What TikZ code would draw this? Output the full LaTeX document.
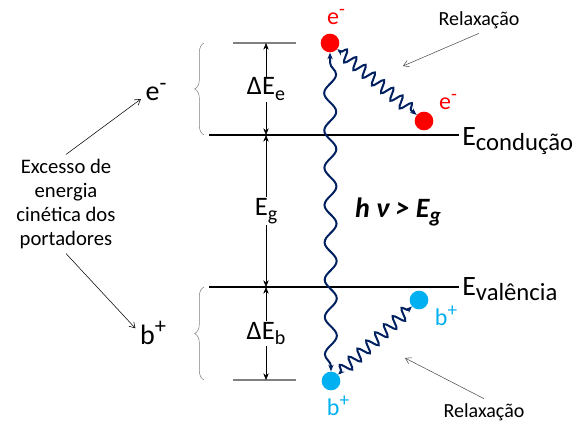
\documentclass[tikz,border=0pt]{standalone}
\usepackage{fontspec}
\setmainfont{Carlito}
\usetikzlibrary{arrows.meta,decorations.pathmorphing,decorations.pathreplacing}
\definecolor{eRed}{RGB}{255,0,0}
\definecolor{hBlue}{RGB}{0,176,240}
\definecolor{waveBlue}{RGB}{0,32,96}
\definecolor{levelGray}{RGB}{128,128,128}
% sub- and superscripts with a size of their own
\newcommand{\lowsub}[2]{\raisebox{-0.4ex}{\fontsize{#1}{#1}\selectfont #2}}
\newcommand{\highsup}[1]{\raisebox{0.8ex}{\scalebox{0.8}{#1}}}

\begin{document}
\begin{tikzpicture}[
    x=0.75pt, y=-0.75pt,
    >={Stealth[length=5pt,width=4pt]},
    band/.style={line width=1.8pt},
    edge level/.style={levelGray, line width=1.8pt},
    gap/.style={<->, thin},
    gap label/.style={fill=white, inner sep=1pt, font=\fontsize{20}{22}\selectfont},
    carrier/.style={circle, minimum size=14pt, inner sep=0pt},
    photon/.style={<->, waveBlue, line width=1.5pt, decorate,
        decoration={snake, segment length=28pt, amplitude=4.5pt, pre length=4pt, post length=4pt}},
    relax/.style={photon, decoration={snake, segment length=9pt, amplitude=4.5pt, pre length=3pt, post length=3pt}},
    brace/.style={levelGray, thin, decorate, decoration={brace, amplitude=7pt}},
    pointer/.style={-{Straight Barb[length=4pt,width=5pt]}, thin},
    big label/.style={font=\fontsize{21}{24}\selectfont},
    charge label/.style={font=\fontsize{18}{20}\selectfont},
    band label/.style={anchor=base west, font=\fontsize{21}{24}\selectfont, inner sep=0pt},
    relax label/.style={font=\fontsize{15}{17}\selectfont}
    ]

    \useasboundingbox (0,0) rectangle (581,426);

    % levels
    \coordinate (eTopL) at (233,43);   \coordinate (eTopR) at (296,43);
    \coordinate (hBotL) at (233,380);  \coordinate (hBotR) at (296,380);
    \coordinate (cbL) at (209,135);    \coordinate (cbR) at (459,135);
    \coordinate (vbL) at (209,287);    \coordinate (vbR) at (459,287);
    \coordinate (eTop) at (266,43);
    \coordinate (cbMid) at (266,135);
    \coordinate (vbMid) at (266,287);
    \coordinate (hBot) at (266,380);

    \draw[edge level] (eTopL) -- (eTopR);
    \draw[edge level] (hBotL) -- (hBotR);
    \draw[band] (cbL) -- (cbR);
    \draw[band] (vbL) -- (vbR);

    \draw[gap] (eTop) -- node[gap label] (dEe) {ΔE\lowsub{15}{e}} (cbMid);
    \draw[gap] (cbMid) -- node[gap label] (Eg) {E\lowsub{15}{g}} (vbMid);
    \draw[gap] (vbMid) -- node[gap label] (dEb) {ΔE\lowsub{15}{b}} (hBot);

    \node[band label] (cbLab) at (462,145) {E\lowsub{18.5}{condução}};
    \node[band label] (vbLab) at (462,295) {E\lowsub{18.5}{valência}};

    % braces
    \coordinate (braceEb) at (204,135); \coordinate (braceEt) at (204,43);
    \coordinate (braceHb) at (204,380); \coordinate (braceHt) at (204,287);
    \draw[brace] (braceEb) -- (braceEt);
    \draw[brace] (braceHb) -- (braceHt);

    \node[big label] (eLab) at (156,92) {e\highsup{-}};
    \node[big label] (hLab) at (153,333) {b\highsup{+}};

    \node[align=center, font=\fontsize{15.5}{18}\selectfont] (excess) at (66,204)
        {Excesso de\\energia\\cinética dos\\portadores};
    \draw[pointer] (excess.north) -- (eLab.205);
    \draw[pointer] (excess.south) -- (hLab.165);

    % carriers
    \node[carrier, fill=eRed] (e1) at (330,43) {};
    \node[carrier, fill=eRed] (e2) at (424,121) {};
    \node[carrier, fill=hBlue] (h1) at (331,381) {};
    \node[carrier, fill=hBlue] (h2) at (419,300) {};

    \node[charge label, text=eRed] (e1Lab) at (336,17) {e\highsup{-}};
    \node[charge label, text=eRed] (e2Lab) at (448,102) {e\highsup{-}};
    \node[charge label, text=hBlue] (h1Lab) at (338,406) {b\highsup{+}};
    \node[charge label, text=hBlue] (h2Lab) at (446,316) {b\highsup{+}};

    \draw[photon] (h1) -- (e1);
    \draw[relax] (e1) -- (e2);
    \draw[relax] (h1) -- (h2);

    \node[font=\fontsize{21}{24}\selectfont\bfseries\itshape] (hv) at (398,212) {h ν > E\lowsub{16}{g}};

    % relaxation
    \node[relax label] (rel1) at (479,20) {Relaxação};
    \node[relax label] (rel2) at (484,412) {Relaxação};
    \coordinate (rel1Tip) at (403,66);
    \coordinate (rel2Tip) at (405,358);
    \draw[pointer, black!70] (rel1.south) -- (rel1Tip);
    \draw[pointer, black!70] (rel2.north) -- (rel2Tip);

\end{tikzpicture}
\end{document}
